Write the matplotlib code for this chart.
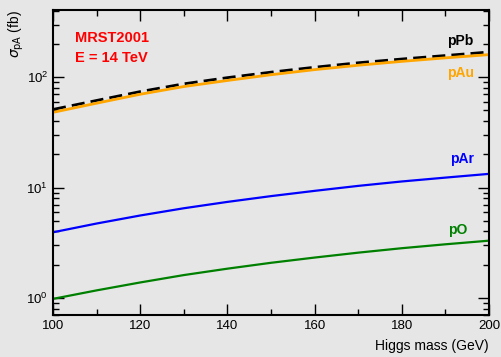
import numpy as np
import matplotlib.pyplot as plt
from matplotlib.ticker import MultipleLocator, LogLocator, NullFormatter

plt.rcParams['font.family'] = ['Liberation Sans', 'DejaVu Sans']

# Higgs mass (GeV) and cross sections sigma_pA (fb)
mass = [100, 110, 120, 130, 140, 150, 160, 170, 180, 190, 200]
sigma_pPb = [51, 61.5, 74, 87, 99, 111, 123, 135, 146, 157, 169]
sigma_pAu = [48, 58.1, 70.0, 82.2, 93.3, 105.2, 117, 128.2, 139, 149.6, 160]
sigma_pAr = [3.93, 4.72, 5.58, 6.49, 7.41, 8.36, 9.33, 10.35, 11.35, 12.3, 13.3]
sigma_pO = [0.98, 1.17, 1.38, 1.61, 1.84, 2.08, 2.32, 2.57, 2.82, 3.06, 3.30]

bg = '#e6e6e6'
fig = plt.figure(figsize=(5.01, 3.57), dpi=100, facecolor=bg)
ax = fig.add_axes([53 / 501, 42 / 357, 436 / 501, 305 / 357], facecolor=bg)

ax.plot(mass, sigma_pPb, color='black', lw=2, dashes=(4.7, 2.2))
ax.plot(mass, sigma_pAu, color='orange', lw=2)
ax.plot(mass, sigma_pAr, color='blue', lw=1.6)
ax.plot(mass, sigma_pO, color='green', lw=1.6)

ax.set_yscale('log')
ax.set_xlim(100, 200)
ax.set_ylim(0.70, 406)
ax.xaxis.set_major_locator(MultipleLocator(20))
ax.xaxis.set_minor_locator(MultipleLocator(10))
ax.yaxis.set_major_locator(LogLocator(base=10))
ax.yaxis.set_minor_locator(LogLocator(base=10, subs=np.arange(2, 10)))
ax.yaxis.set_minor_formatter(NullFormatter())

ax.tick_params(which='both', direction='in', top=True, right=True,
               labelsize=9.5, colors='black')
ax.tick_params(which='major', length=8, width=1)
ax.tick_params(which='minor', length=4.5, width=1)
for s in ax.spines.values():
    s.set_linewidth(1.5)

ax.text(0.05, 0.93, 'MRST2001', transform=ax.transAxes, color='red',
        fontsize=10.5, fontweight='bold', va='top')
ax.text(0.05, 0.865, 'E = 14 TeV', transform=ax.transAxes, color='red',
        fontsize=10.5, fontweight='bold', va='top')

ax.text(0.965, 0.886, 'pPb', transform=ax.transAxes, color='black',
        fontsize=10, fontweight='bold', ha='right')
ax.text(0.965, 0.78, 'pAu', transform=ax.transAxes, color='orange',
        fontsize=10, fontweight='bold', ha='right')
ax.text(0.965, 0.497, 'pAr', transform=ax.transAxes, color='blue',
        fontsize=10, fontweight='bold', ha='right')
ax.text(0.95, 0.265, 'pO', transform=ax.transAxes, color='green',
        fontsize=10, fontweight='bold', ha='right')

ax.set_xlabel('Higgs mass (GeV)', fontsize=10, loc='right', labelpad=5)
ax.set_ylabel(r'$\sigma_{\mathrm{pA}}$ (fb)', fontsize=10, loc='top', labelpad=0)

fig.savefig('out.png', dpi=100, facecolor=bg)
